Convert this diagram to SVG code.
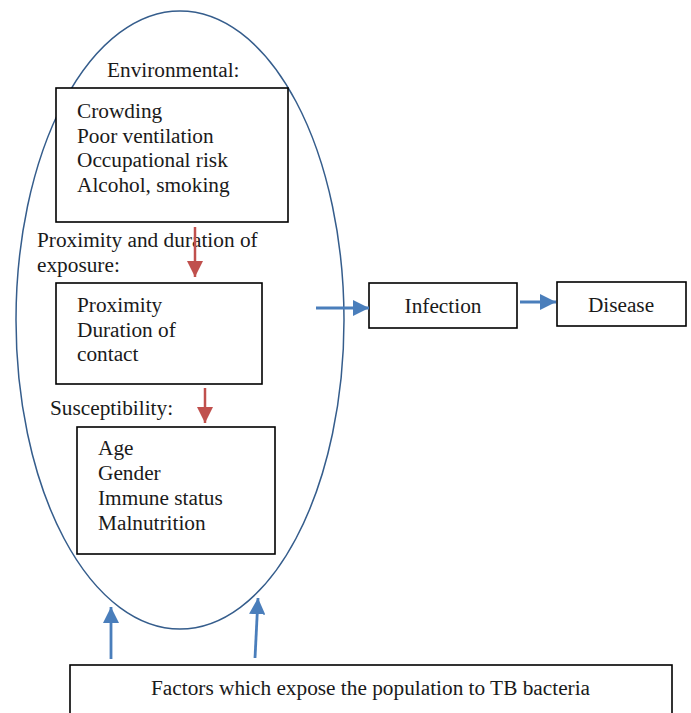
<svg xmlns="http://www.w3.org/2000/svg" width="691" height="713" viewBox="0 0 691 713">
  <style>
    text { font-family: "Liberation Serif", "Times New Roman", serif; font-size: 21.3px; fill: #1a1a1a; }
    .box { fill: #ffffff; stroke: #000000; stroke-width: 1.6; }
    .red { stroke: #c0504d; stroke-width: 2.5; fill: none; }
    .blue { stroke: #4a7ebb; stroke-width: 2.8; fill: none; }
    .ring { fill: none; stroke: #355d8c; stroke-width: 1.5; }
  </style>
  <defs>
    <marker id="headRed" viewBox="0 0 10 10" refX="10" refY="5" markerWidth="6.5" markerHeight="6.5" markerUnits="strokeWidth" orient="auto">
      <path d="M0,0 L10,5 L0,10 Z" fill="#c0504d"/>
    </marker>
    <marker id="headBlue" viewBox="0 0 10 10" refX="10" refY="5" markerWidth="5.8" markerHeight="5.8" markerUnits="strokeWidth" orient="auto">
      <path d="M0,0 L10,5 L0,10 Z" fill="#4a7ebb"/>
    </marker>
  </defs>

  <rect width="691" height="713" fill="#ffffff"/>

  <g id="exposure-ring">
    <ellipse class="ring" cx="180" cy="320" rx="164" ry="309"/>
  </g>

  <g id="environmental">
    <text x="107" y="77">Environmental:</text>
    <rect class="box" x="56" y="88" width="232" height="134"/>
    <text x="77" y="118">Crowding</text>
    <text x="77" y="143">Poor ventilation</text>
    <text x="77" y="167">Occupational risk</text>
    <text x="77" y="192">Alcohol, smoking</text>
  </g>

  <g id="proximity">
    <text x="37" y="247">Proximity and duration of</text>
    <text x="37" y="272">exposure:</text>
    <rect class="box" x="56" y="283" width="206" height="101"/>
    <text x="77" y="312">Proximity</text>
    <text x="77" y="337">Duration of</text>
    <text x="77" y="361">contact</text>
  </g>

  <g id="susceptibility">
    <text x="50" y="415">Susceptibility:</text>
    <rect class="box" x="77" y="427" width="198" height="127"/>
    <text x="98" y="455">Age</text>
    <text x="98" y="480">Gender</text>
    <text x="98" y="505">Immune status</text>
    <text x="98" y="530">Malnutrition</text>
  </g>

  <g id="infection">
    <rect class="box" x="369" y="283" width="148" height="45"/>
    <text x="443" y="313" text-anchor="middle">Infection</text>
  </g>

  <g id="disease">
    <rect class="box" x="557" y="282" width="129" height="44"/>
    <text x="621" y="312" text-anchor="middle">Disease</text>
  </g>

  <g id="population-factors">
    <rect class="box" x="70" y="665" width="602" height="60"/>
    <text x="151" y="695">Factors which expose the population to TB bacteria</text>
  </g>

  <g id="connectors">
    <line class="red" x1="195" y1="227" x2="195" y2="277" marker-end="url(#headRed)"/>
    <line class="red" x1="205" y1="388" x2="205" y2="423" marker-end="url(#headRed)"/>
    <line class="blue" x1="316" y1="308" x2="369" y2="308" marker-end="url(#headBlue)"/>
    <line class="blue" x1="520" y1="302" x2="556" y2="302" marker-end="url(#headBlue)"/>
    <line class="blue" x1="111" y1="659" x2="111" y2="607" marker-end="url(#headBlue)"/>
    <line class="blue" x1="255" y1="658" x2="258" y2="598" marker-end="url(#headBlue)"/>
  </g>
</svg>
